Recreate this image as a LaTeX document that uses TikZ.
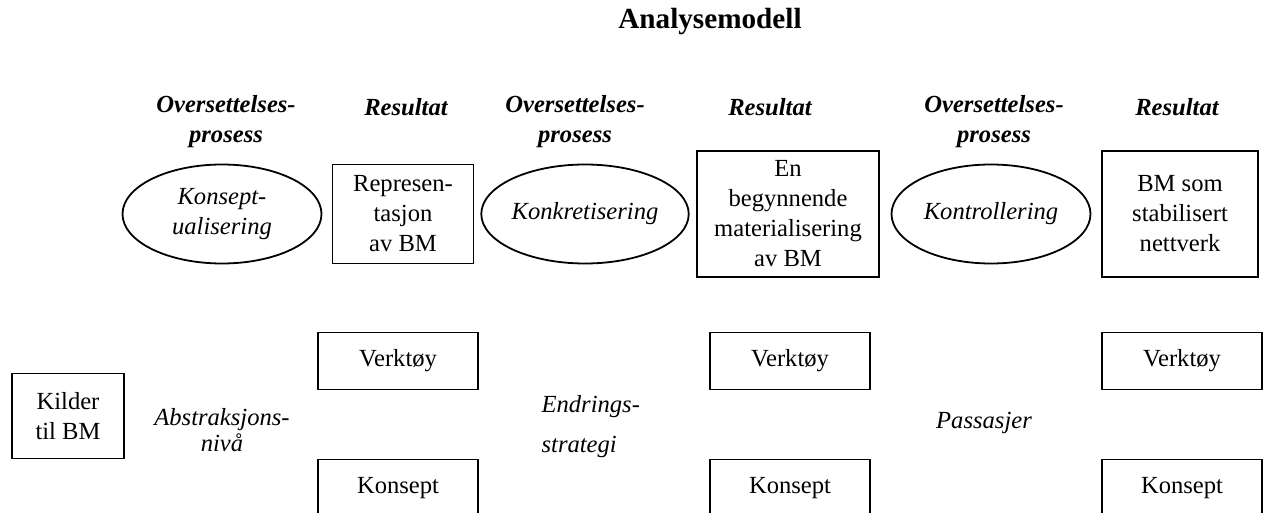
\documentclass[tikz,border=0pt]{standalone}
\usepackage{fontspec}
\setmainfont{Liberation Serif}
\usetikzlibrary{shapes.geometric}

\begin{document}
\fontsize{12.3}{15}\selectfont
\begin{tikzpicture}[x=0.5pt,y=-0.5pt,
        proc/.style={draw, ellipse, line width=0.9pt, inner sep=0pt, minimum width=99.5pt, minimum height=49.5pt, align=center, font=\itshape},
        res/.style={draw, rectangle, line width=0.9pt, inner sep=0pt, align=center},
        tool/.style={res, minimum width=80pt, minimum height=28.5pt},
        head/.style={align=center, font=\bfseries\itshape},
        lbl/.style={align=center, font=\itshape}]
        \useasboundingbox (0,0) rectangle (1263,513);
        \clip (0,0) rectangle (1263,513);

        \node[font=\bfseries] (title) at (710,22) {\fontsize{14.6}{17}\selectfont Analysemodell};

        \node[head] (o1) at (226,122) {Oversettelses-\\prosess};
        \node[head] (h1) at (406,107) {Resultat};
        \node[head] (o2) at (575,122) {Oversettelses-\\prosess};
        \node[head] (h2) at (770,107) {Resultat};
        \node[head] (o3) at (994,122) {Oversettelses-\\prosess};
        \node[head] (h3) at (1177,107) {Resultat};

        \node[proc] (p1) at (222,214) {Konsept-\\ualisering};
        \node[proc] (p2) at (585,214) {Konkretisering};
        \node[proc] (p3) at (991,214) {Kontrollering};

        \node[res, minimum width=70.5pt, minimum height=49.5pt] (r1) at (403,214) {Represen-\\tasjon\\av BM};
        \node[res, minimum width=91pt, minimum height=63pt] (r2) at (788,214) {En\\begynnende\\materialisering\\av BM};
        \node[res, minimum width=78pt, minimum height=63pt] (r3) at (1180,214) {BM som\\stabilisert\\nettverk};

        \node[res, minimum width=56pt, minimum height=42.5pt] (kilder) at (68,416) {Kilder\\til BM};

        \node[tool] (v1) at (398,361) {Verktøy};
        \node[tool] (v2) at (790,361) {Verktøy};
        \node[tool] (v3) at (1182,361) {Verktøy};
        \node[tool] (k1) at (398,488) {Konsept};
        \node[tool] (k2) at (790,488) {Konsept};
        \node[tool] (k3) at (1182,488) {Konsept};

        \node[lbl] (a1) at (222,430) {Abstraksjons-\\[-2pt]nivå};
        \node[lbl, align=left, anchor=west] (a2) at (533,427) {Endrings-\\[5pt]strategi};
        \node[lbl] (a3) at (984,423) {Passasjer};
    \end{tikzpicture}
\end{document}
